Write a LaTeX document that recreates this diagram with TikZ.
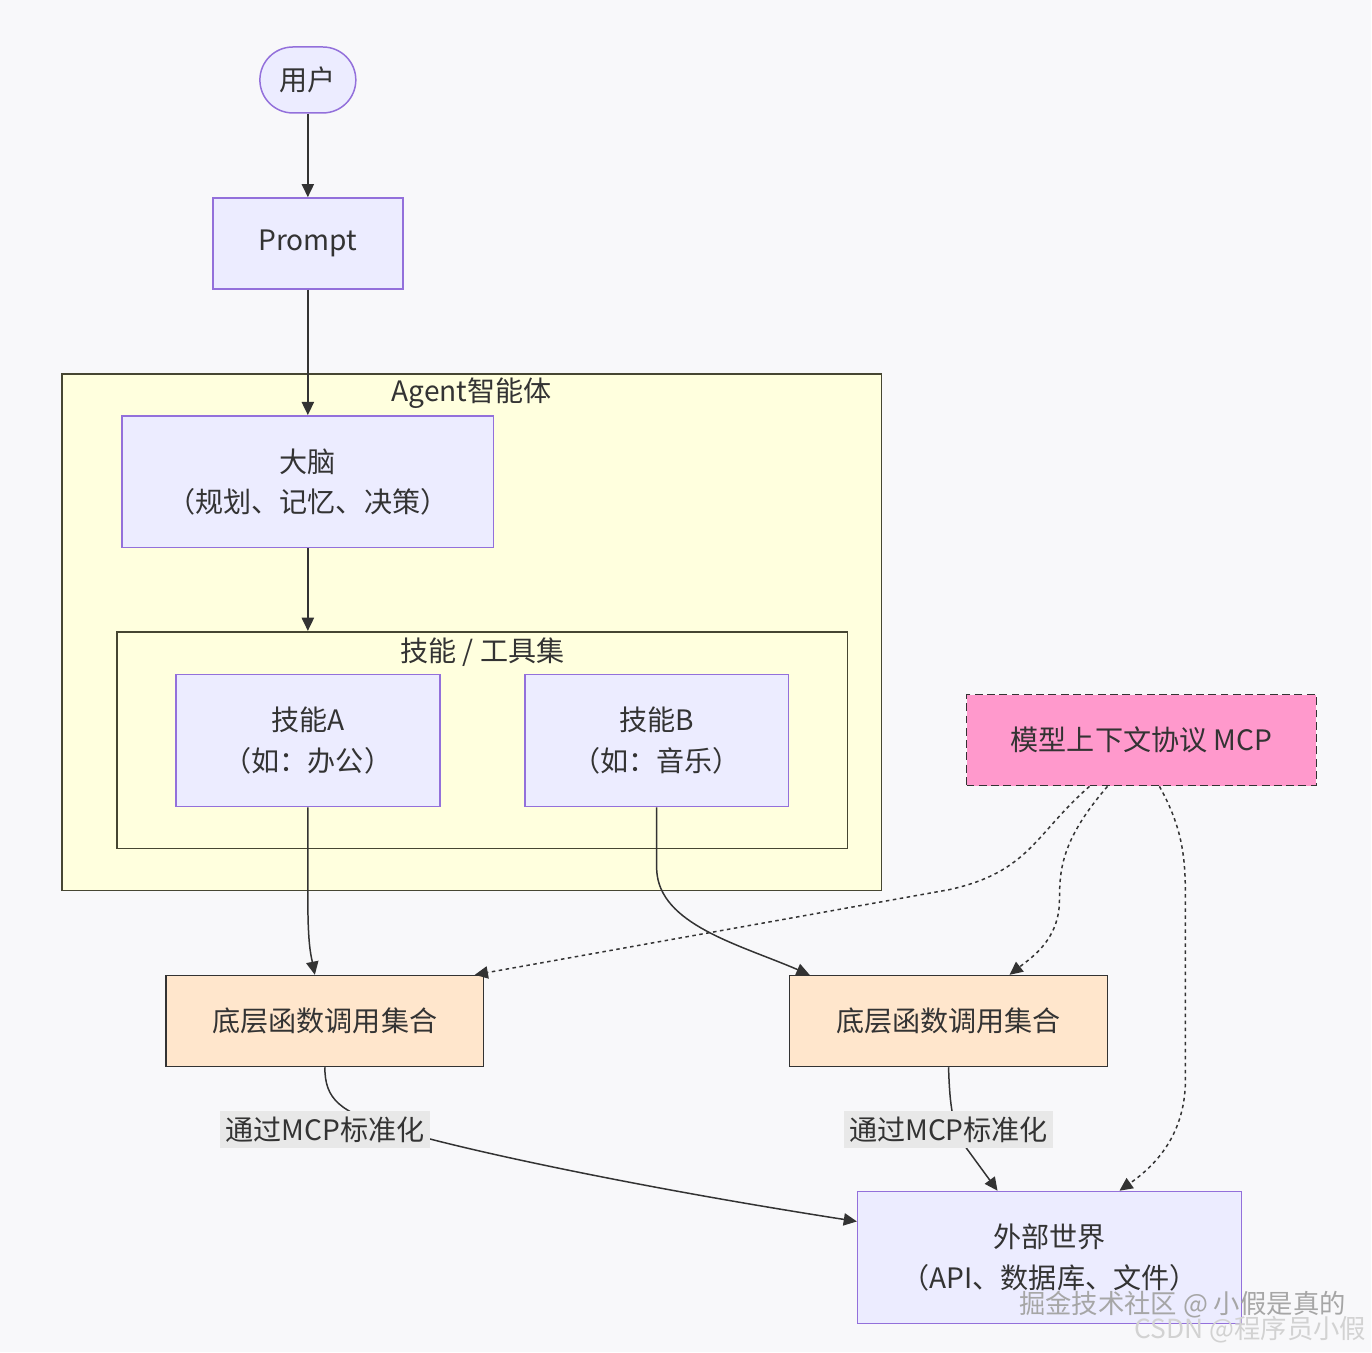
\documentclass[tikz,border=0pt]{standalone}
\usepackage{fontspec}
\setmainfont{Noto Sans CJK SC}
\usetikzlibrary{arrows.meta,calc}

\definecolor{bgcol}{RGB}{248,248,250}
\definecolor{txtcol}{RGB}{51,51,51}
\definecolor{boxfill}{RGB}{236,236,255}
\definecolor{boxline}{RGB}{147,112,219}
\definecolor{clfill}{RGB}{255,255,222}
\definecolor{clline}{RGB}{70,70,50}
\definecolor{mcpfill}{RGB}{255,153,204}
\definecolor{fnfill}{RGB}{255,230,204}
\definecolor{lblbg}{RGB}{232,232,232}

\begin{document}
\begin{tikzpicture}[x=0.02cm, y=-0.02cm,
	every node/.style={font=\fontsize{16}{23}\selectfont, text=txtcol},
	box/.style={draw=boxline, fill=boxfill, line width=0.85pt, inner sep=0pt, align=center},
	cluster/.style={draw=clline, fill=clfill, line width=0.95pt, inner sep=0pt},
	fnbox/.style={draw=txtcol, fill=fnfill, line width=0.85pt, inner sep=0pt, align=center},
	conn/.style={draw=txtcol, line width=0.85pt, -{Triangle[length=7.5pt,width=7pt]}},
	mcpconn/.style={conn, dash pattern=on 2pt off 2pt},
	edgelbl/.style={fill=lblbg, inner sep=3pt}]
	\fill[bgcol] (0,0) rectangle (1372,1353); % Hintergrund
	
	% Cluster
	\node[cluster, minimum width=16.4cm, minimum height=10.34cm] (agent) at (472,632.5) {};
	\node (agentlbl) at ($(agent.north)+(0,20)$) {Agent智能体};
	\node[cluster, minimum width=14.62cm, minimum height=4.34cm] (skills) at (482.5,740.5) {};
	\node (skillslbl) at ($(skills.north)+(0,21)$) {技能 / 工具集};
	
	% Knoten
	\node[box, rounded corners=0.66cm, minimum width=1.92cm, minimum height=1.32cm] (user) at (308,80) {用户};
	\node[box, minimum width=3.8cm, minimum height=1.82cm] (prompt) at (308,243.5) {Prompt};
	\node[box, minimum width=7.44cm, minimum height=2.64cm] (brain) at (308,482) {大脑\\（规划、记忆、决策）};
	\node[box, minimum width=5.28cm, minimum height=2.64cm] (skA) at (308,741) {技能A\\（如：办公）};
	\node[box, minimum width=5.28cm, minimum height=2.64cm] (skB) at (657,741) {技能B\\（如：音乐）};
	\node[draw=txtcol, fill=mcpfill, line width=0.85pt, dash pattern=on 4.5pt off 2.5pt, inner sep=0pt,
		minimum width=7cm, minimum height=1.82cm] (mcp) at (1142,740.5) {模型上下文协议 MCP};
	\node[fnbox, minimum width=6.36cm, minimum height=1.82cm] (flA) at (325,1021.5) {底层函数调用集合};
	\node[fnbox, minimum width=6.36cm, minimum height=1.82cm] (flB) at (949,1021.5) {底层函数调用集合};
	\node[box, minimum width=7.68cm, minimum height=2.64cm] (world) at (1050,1258) {外部世界\\（API、数据库、文件）};
	
	% Pfeile
	\draw[conn] (user) -- (prompt);
	\draw[conn] (prompt) -- (brain);
	\draw[conn] (brain) -- (brain.south |- skills.north);
	\draw[conn] (skA.south) -- (308,900) .. controls (308,945) and (311,955) .. ($(flA.north)+(-10,0)$);
	\draw[conn] (skB.south) -- (657,870) .. controls (659,925) and (740,945) .. ($(flB.north)+(-139,0)$);
	\draw[mcpconn] ($(mcp.south)+(-52,0)$) .. controls (1035,835) and (1030,872) .. (950,890) -- ($(flA.north)+(150,0)$);
	\draw[mcpconn] ($(mcp.south)+(-34,0)$) .. controls (1062,840) and (1060,870) .. (1060,900)
		.. controls (1060,940) and (1032,958) .. ($(flB.north)+(61,0)$);
	\draw[mcpconn] ($(mcp.south)+(18,0)$) .. controls (1184,830) and (1186,860) .. (1186,900) -- (1186,1080)
		.. controls (1186,1140) and (1150,1170) .. ($(world.north)+(70,0)$);
	\draw[conn] (flA.south) .. controls (325,1100) and (340,1112) .. (390,1128)
		.. controls (440,1145) and (620,1185) .. ($(world.west)+(0,-36)$);
	\draw[conn] (flB.south) .. controls (950,1100) and (952,1122) .. (962,1142) -- ($(world.north)+(-52,0)$);
	
	% Kantenbeschriftungen
	\node[edgelbl] (lblA) at (325,1130) {通过MCP标准化};
	\node[edgelbl] (lblB) at (949,1130) {通过MCP标准化};
	
	% Wasserzeichen
	\node[font=\fontsize{15}{18}\selectfont, text=gray!70] (wm1) at (1183,1305) {掘金技术社区 @ 小假是真的};
	\node[font=\fontsize{15}{18}\selectfont, text=gray!35] (wm2) at (1251,1330) {CSDN @程序员小假};
\end{tikzpicture}
\end{document}
